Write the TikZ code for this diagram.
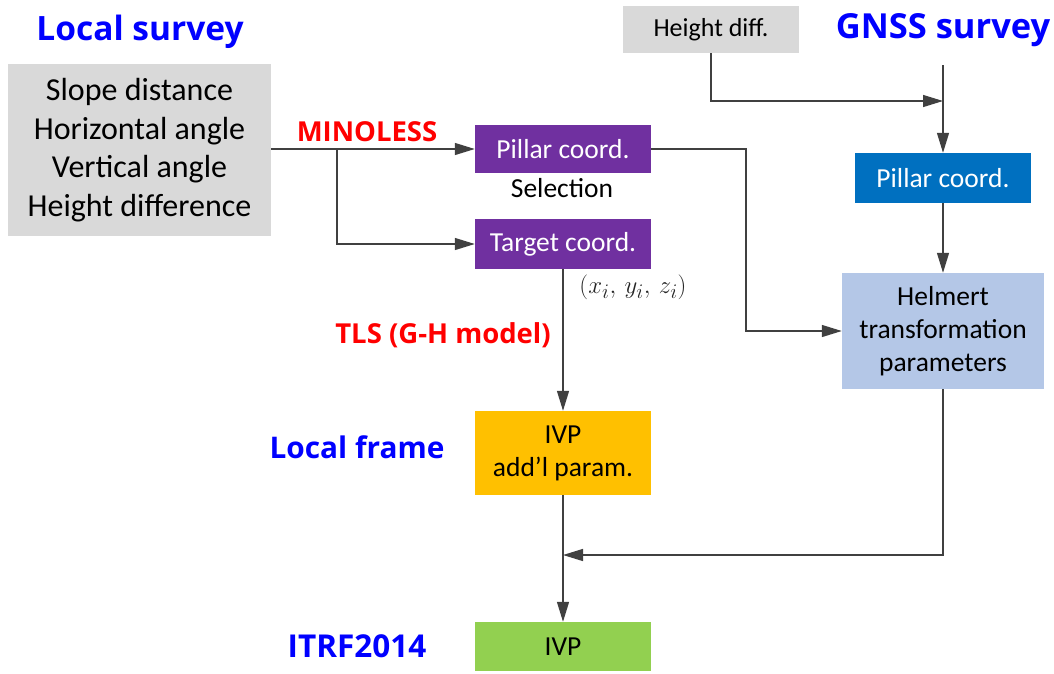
\documentclass[tikz,border=0pt]{standalone}
\usepackage{fontspec}
\setmainfont{Carlito}
\newfontfamily\headfont{Open Sans}
\usetikzlibrary{arrows.meta}
\definecolor{boxgray}{HTML}{D9D9D9}
\definecolor{purp}{HTML}{7030A0}
\definecolor{gold}{HTML}{FFC000}
\definecolor{leaf}{HTML}{92D050}
\definecolor{ocean}{HTML}{0070C0}
\definecolor{pale}{HTML}{B4C7E7}
\definecolor{wire}{HTML}{404040}
\definecolor{headblue}{HTML}{0000FF}
\definecolor{headred}{HTML}{FF0000}
\newcommand\headsize[1]{\headfont\fontsize{#1}{38}\selectfont\bfseries}
\begin{document}
\begin{tikzpicture}[x=1pt,y=-1pt,
  box/.style={inner sep=0pt,align=center,minimum width=176pt,
    font=\fontsize{27.5}{33}\selectfont},
  lightbox/.style={box,fill=#1,text=white},
  darkbox/.style={box,fill=#1,text=black},
  heading/.style={inner sep=0pt,text=headblue,font=\headsize{#1}},
  method/.style={inner sep=0pt,text=headred,font=\headsize{27.5}},
  note/.style={inner sep=0pt,font=\fontsize{27.5}{33}\selectfont},
  link/.style={draw=wire,line width=1.3pt,-{Triangle[length=20pt,width=12pt]}}]
\useasboundingbox (0,0) rectangle (1054,673);

% survey inputs
\node[darkbox=boxgray,minimum width=263pt,minimum height=172pt,
      font=\fontsize{32}{38.5}\selectfont] (obs) at (139.5,150)
  {Slope distance\\Horizontal angle\\Vertical angle\\Height difference};
\node[darkbox=boxgray,minimum height=47pt,font=\fontsize{26}{31}\selectfont]
  (hdiff) at (711,29.5) {Height diff.};

% coordinate boxes
\node[lightbox=purp,minimum height=48pt] (pillarL) at (563,149) {Pillar coord.};
\node[lightbox=purp,minimum height=50pt] (target) at (563,244) {Target coord.};
\node[lightbox=ocean,minimum height=50pt] (pillarG) at (943,178) {Pillar coord.};
\node[darkbox=pale,minimum width=202pt,minimum height=116pt] (helmert) at (943,331)
  {Helmert\\transformation\\parameters};
\node[darkbox=gold,minimum height=84pt] (ivpL) at (563,453) {IVP\\add’l param.};
\node[darkbox=leaf,minimum height=49pt] (ivpG) at (563,646.5) {IVP};

% headings and labels
\node[heading=33.5] (localT) at (140,32) {Local survey};
\node[heading=34.5] (gnssT) at (943,30) {GNSS survey};
\node[heading=29.8] (frameT) at (357,447) {Local frame};
\node[heading=31.5] (itrfT) at (357,646) {ITRF2014};
\node[method] (minoless) at (367,132) {MINOLESS};
\node[method] (tls) at (443,335) {TLS (G-H model)};
\node[note] (selection) at (562,188) {Selection};
\node[inner sep=0pt,text=black!85,font=\fontsize{29}{34}\selectfont] (xyz) at (633,287) {$(x_i,\,y_i,\,z_i)$};

% junction points
\coordinate (split) at (337,149);
\coordinate (elbow) at (746,331);
\coordinate (gtop) at (943,65);
\coordinate (join) at (943,101);
\coordinate (merge) at (563,555);

% connectors
\draw[link] (obs.east |- pillarL.west) -- (pillarL.west);
\draw[link] (split) |- (target.west);
\draw[link] (target.south) -- (ivpL.north);
\draw[link] (ivpL.south) -- (ivpG.north);
\draw[link] (pillarL.east) -| (elbow) -- (helmert.west);
\draw[link] (hdiff.south) |- (join);
\draw[link] (gtop) -- (pillarG.north);
\draw[link] (pillarG.south) -- (helmert.north);
\draw[link] (helmert.south) |- (merge);
\end{tikzpicture}
\end{document}
